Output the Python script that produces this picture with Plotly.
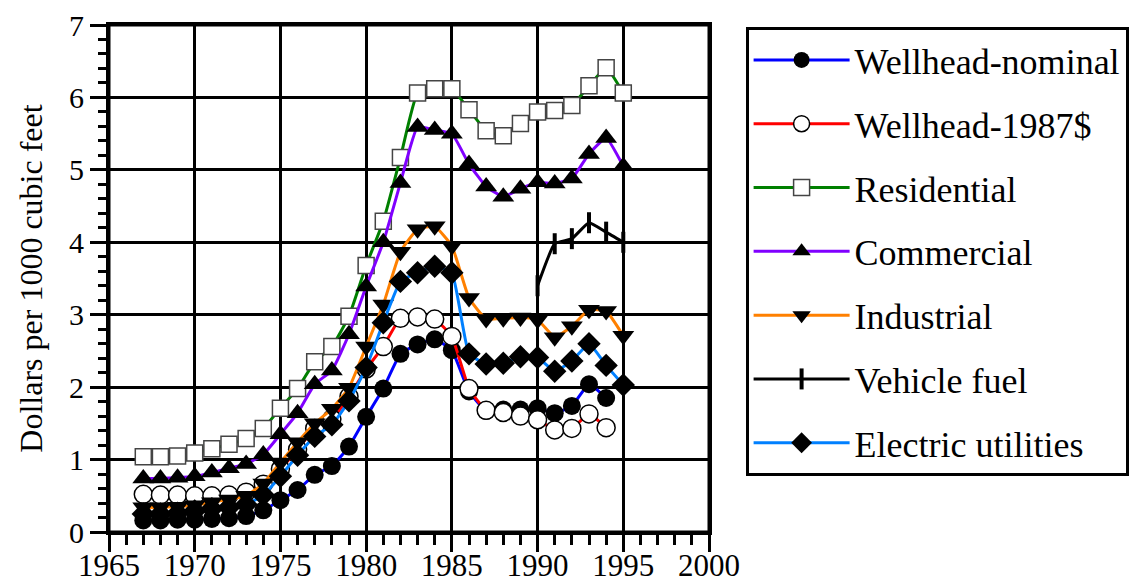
import plotly.graph_objects as go

years = list(range(1967, 1996))
years_wh = list(range(1967, 1995))
years_vf = list(range(1990, 1996))

wellhead_nominal = [0.16, 0.16, 0.17, 0.17, 0.18, 0.19, 0.22, 0.30, 0.44, 0.58,
                    0.79, 0.91, 1.18, 1.59, 1.98, 2.46, 2.59, 2.66, 2.51, 1.94,
                    1.67, 1.69, 1.69, 1.71, 1.64, 1.74, 2.04, 1.85]
wellhead_1987 = [0.52, 0.51, 0.51, 0.50, 0.50, 0.51, 0.55, 0.66, 0.87, 1.14,
                 1.43, 1.56, 1.87, 2.25, 2.56, 2.95, 2.97, 2.94, 2.70, 1.98,
                 1.68, 1.65, 1.60, 1.55, 1.41, 1.43, 1.63, 1.44]
residential = [1.04, 1.04, 1.05, 1.09, 1.15, 1.21, 1.29, 1.43, 1.71, 1.98,
               2.35, 2.56, 2.98, 3.68, 4.29, 5.17, 6.06, 6.12, 6.12, 5.83,
               5.54, 5.47, 5.64, 5.80, 5.82, 5.89, 6.16, 6.41, 6.06]
commercial = [0.74, 0.74, 0.75, 0.77, 0.82, 0.88, 0.94, 1.07, 1.35, 1.64,
              2.04, 2.23, 2.73, 3.39, 4.00, 4.82, 5.59, 5.55, 5.50, 5.08,
              4.77, 4.63, 4.74, 4.83, 4.81, 4.88, 5.22, 5.44, 5.05]
industrial = [0.34, 0.34, 0.35, 0.37, 0.41, 0.45, 0.50, 0.67, 0.96, 1.24,
              1.50, 1.70, 1.99, 2.56, 3.14, 3.87, 4.18, 4.22, 3.95, 3.23,
              2.94, 2.95, 2.96, 2.93, 2.69, 2.84, 3.07, 3.05, 2.71]
vehicle_fuel = [3.40, 3.98, 4.05, 4.27, 4.14, 4.00]
electric = [0.25, 0.25, 0.26, 0.29, 0.32, 0.34, 0.38, 0.51, 0.77, 1.06,
            1.32, 1.48, 1.81, 2.27, 2.89, 3.46, 3.58, 3.67, 3.58, 2.46,
            2.32, 2.33, 2.42, 2.41, 2.22, 2.36, 2.60, 2.30, 2.03]

FONT = "Liberation Serif"

series = [
    ("Wellhead-nominal", years_wh, wellhead_nominal, "#0000ff",
     dict(symbol="circle", size=18, color="black")),
    ("Wellhead-1987$", years_wh, wellhead_1987, "#ff0000",
     dict(symbol="circle", size=18, color="white", line=dict(color="black", width=1.5))),
    ("Residential", years, residential, "#008000",
     dict(symbol="square", size=16, color="white", line=dict(color="#444444", width=1.5))),
    ("Commercial", years, commercial, "#8000ff",
     dict(symbol="triangle-up", size=19, color="black")),
    ("Industrial", years, industrial, "#ff8000",
     dict(symbol="triangle-down", size=19, color="black")),
    ("Vehicle fuel", years_vf, vehicle_fuel, "#000000",
     dict(symbol="line-ns", size=15, color="black", line=dict(color="black", width=4))),
    ("Electric utilities", years, electric, "#0080ff",
     dict(symbol="diamond", size=18, color="black")),
]

fig = go.Figure()
for i, (name, xs, ys, col, mk) in enumerate(series):
    fig.add_trace(go.Scatter(
        x=xs, y=ys, name=name, mode="lines+markers",
        line=dict(color=col, width=3, shape="spline", smoothing=0.4),
        marker=mk, legendgroup=f"g{i}",
    ))

axis_common = dict(
    showline=True, linecolor="black", linewidth=3, mirror=True,
    showgrid=True, gridcolor="black", gridwidth=3,
    ticks="outside", tickcolor="black", tickwidth=3,
    zeroline=False, automargin=False, ticklabeloverflow="allow",
)

# frame around the plotting area (paper coordinates)
fig.add_shape(type="rect", xref="paper", yref="paper", x0=0, x1=1, y0=0, y1=1,
              line=dict(color="black", width=3), layer="above")

# page body has an 8px default margin, so the figure is 8px smaller each way
fig.update_layout(
    width=1135, height=573,
    margin=dict(l=101, r=434, t=17, b=49),
    paper_bgcolor="white", plot_bgcolor="white",
    font=dict(family=FONT, size=32, color="black"),
    xaxis=dict(range=[1965, 2000], dtick=5, tick0=1965, ticklen=17,
               ticklabelstandoff=-13,
               tickfont=dict(family=FONT, size=31, color="black"),
               minor=dict(dtick=1, ticklen=10, tickwidth=2.5, tickcolor="black", showgrid=False),
               **axis_common),
    yaxis=dict(range=[0, 7], dtick=1, tick0=0, ticklen=16,
               tickfont=dict(family=FONT, size=30, color="black"),
               minor=dict(dtick=0.2, ticklen=8, tickwidth=2.5, tickcolor="black", showgrid=False),
               title=dict(text="Dollars per 1000 cubic feet",
                          font=dict(family=FONT, size=32, color="black"), standoff=17),
               **axis_common),
    legend=dict(
        x=1.061, y=0.996, xanchor="left", yanchor="top",
        bordercolor="black", borderwidth=3, bgcolor="white",
        font=dict(family=FONT, size=36, color="black"),
        itemwidth=96, tracegroupgap=14,
    ),
    showlegend=True,
)

fig.write_html("out.html")
